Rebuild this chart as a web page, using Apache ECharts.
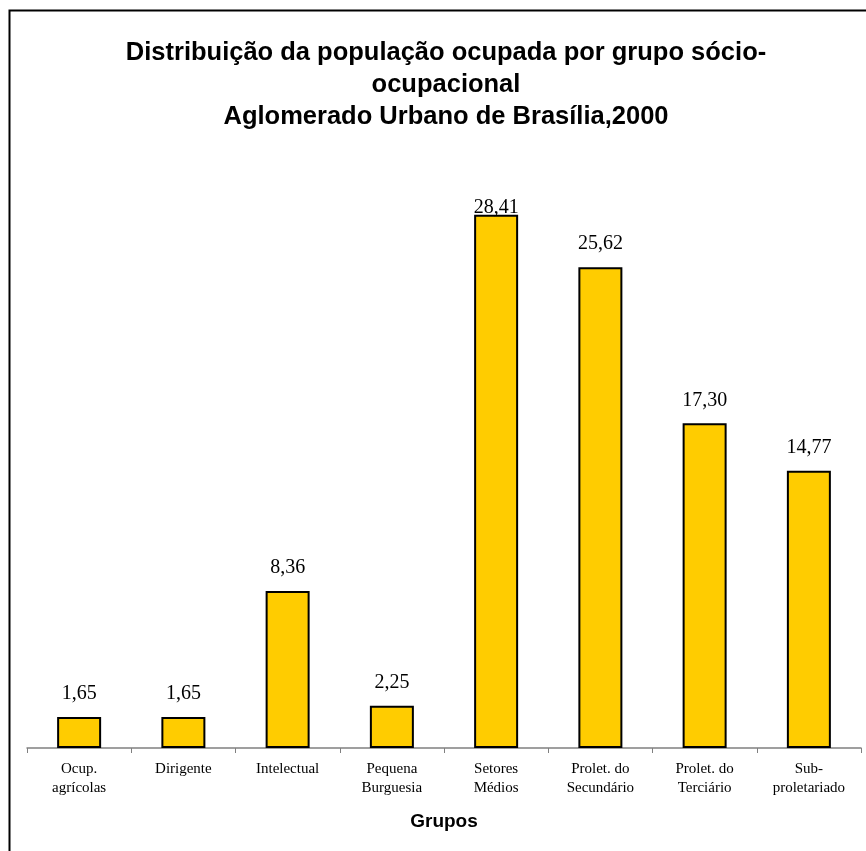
<!DOCTYPE html>
<html>
<head>
<meta charset="utf-8">
<script src="https://cdn.jsdelivr.net/npm/echarts@6/dist/echarts.min.js"></script>
<style>
  html, body { margin: 0; padding: 0; background: #fff; }
  #chart { width: 866px; height: 851px; }
</style>
</head>
<body>
<div id="chart"></div>
<script>
// Grupos sócio-ocupacionais e participação (%) na população ocupada
const categories = [
  'Ocup.\nagrícolas',
  'Dirigente',
  'Intelectual',
  'Pequena\nBurguesia',
  'Setores\nMédios',
  'Prolet. do\nSecundário',
  'Prolet. do\nTerciário',
  'Sub-\nproletariado'
];
const values = [1.65, 1.65, 8.36, 2.25, 28.41, 25.62, 17.30, 14.77];

const titleLines = [
  'Distribuição da população ocupada por grupo sócio-',
  'ocupacional',
  'Aglomerado Urbano de Brasília,2000'
];
const axisTitle = 'Grupos';

// the tallest bar's label sits tight against the top of the plot area
const seriesData = values.map(v => {
  const isMax = v === Math.max(...values);
  return isMax ? { value: v, label: { distance: -3 } } : v;
});

const chart = echarts.init(document.getElementById('chart'));

chart.setOption({
  backgroundColor: '#ffffff',
  animation: false,
  graphic: [{
    type: 'rect',
    shape: { x: 9.5, y: 10.5, width: 900, height: 900 },
    style: { fill: 'none', stroke: '#000', lineWidth: 2 },
    silent: true
  }],
  title: {
    text: titleLines.join('\n'),
    left: 441,
    textAlign: 'center',
    top: 32,
    textStyle: {
      fontFamily: 'Liberation Sans, Arial, sans-serif',
      fontWeight: 'bold',
      fontSize: 25.5,
      lineHeight: 32,
      color: '#000'
    }
  },
  grid: { left: 27, right: 5, top: 185, bottom: 103 },
  xAxis: {
    type: 'category',
    data: categories,
    axisLine: { lineStyle: { color: '#808080', width: 1.5 } },
    axisTick: { show: true, length: 5, alignWithLabel: false, lineStyle: { color: '#808080' } },
    axisLabel: {
      interval: 0,
      margin: 12,
      fontFamily: 'Liberation Serif, Times New Roman, serif',
      fontSize: 15,
      lineHeight: 19,
      color: '#000'
    },
    name: axisTitle,
    nameLocation: 'middle',
    nameGap: 64,
    nameTextStyle: {
      fontFamily: 'Liberation Sans, Arial, sans-serif',
      fontWeight: 'bold',
      fontSize: 19,
      color: '#000'
    }
  },
  yAxis: {
    type: 'value',
    min: 0,
    max: 30,
    show: false,
    splitLine: { show: false }
  },
  series: [{
    type: 'bar',
    data: seriesData,
    barWidth: 44,
    itemStyle: { color: '#FFCC00', borderColor: '#000', borderWidth: 2 },
    label: {
      show: true,
      position: 'top',
      distance: 13,
      formatter: p => p.value.toFixed(2).replace('.', ','),
      fontFamily: 'Liberation Serif, Times New Roman, serif',
      fontSize: 20,
      lineHeight: 20,
      color: '#000'
    }
  }]
});
</script>
</body>
</html>
